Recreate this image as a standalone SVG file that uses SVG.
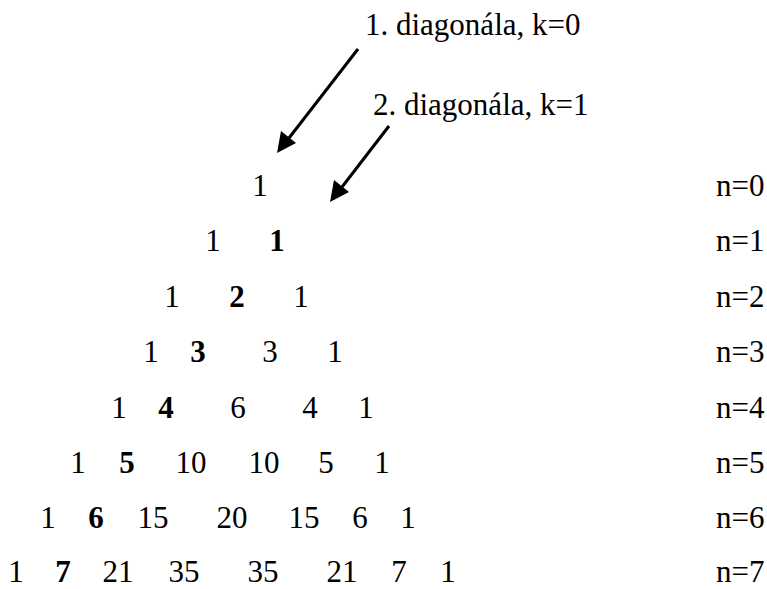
<svg xmlns="http://www.w3.org/2000/svg" width="767" height="589" viewBox="0 0 767 589" font-family="'Liberation Serif', 'Times New Roman', serif" font-size="31">
<style>
text{font-family:'Liberation Serif','Times New Roman',serif;font-size:31px;fill:#000}
.c{text-anchor:middle}
.b{font-weight:bold}
.arr{stroke:#000;stroke-width:3;fill:none}
.head{fill:#000}
</style>
<rect width="767" height="589" fill="#fff"/>
<g id="label1"><text x="365" y="35">1. diagonála, k=0</text></g>
<g id="label2"><text x="373" y="115">2. diagonála, k=1</text></g>
<g id="connectors">
<line class="arr" x1="358" y1="49" x2="289" y2="138"/>
<polygon class="head" points="277,153 281,131 296,143"/>
<line class="arr" x1="389" y1="126" x2="342" y2="187"/>
<polygon class="head" points="330,202 334,180 349,192"/>
</g>
<g id="row0"><text class="c" x="260" y="196">1</text><text x="716" y="196">n=0</text></g>
<g id="row1"><text class="c" x="213" y="251">1</text><text class="c b" x="277" y="251">1</text><text x="716" y="251">n=1</text></g>
<g id="row2"><text class="c" x="172" y="307">1</text><text class="c b" x="237" y="307">2</text><text class="c" x="301" y="307">1</text><text x="716" y="307">n=2</text></g>
<g id="row3"><text class="c" x="151" y="362">1</text><text class="c b" x="198" y="362">3</text><text class="c" x="270" y="362">3</text><text class="c" x="335" y="362">1</text><text x="716" y="362">n=3</text></g>
<g id="row4"><text class="c" x="119" y="418">1</text><text class="c b" x="166" y="418">4</text><text class="c" x="238" y="418">6</text><text class="c" x="310" y="418">4</text><text class="c" x="366" y="418">1</text><text x="716" y="418">n=4</text></g>
<g id="row5"><text class="c" x="78" y="473">1</text><text class="c b" x="127" y="473">5</text><text class="c" x="191" y="473">10</text><text class="c" x="264" y="473">10</text><text class="c" x="326" y="473">5</text><text class="c" x="382" y="473">1</text><text x="716" y="473">n=5</text></g>
<g id="row6"><text class="c" x="48" y="528">1</text><text class="c b" x="96" y="528">6</text><text class="c" x="153" y="528">15</text><text class="c" x="232" y="528">20</text><text class="c" x="304" y="528">15</text><text class="c" x="360" y="528">6</text><text class="c" x="408" y="528">1</text><text x="716" y="528">n=6</text></g>
<g id="row7"><text class="c" x="16" y="582">1</text><text class="c b" x="63" y="582">7</text><text class="c" x="118" y="582">21</text><text class="c" x="184" y="582">35</text><text class="c" x="263" y="582">35</text><text class="c" x="342" y="582">21</text><text class="c" x="399" y="582">7</text><text class="c" x="448" y="582">1</text><text x="716" y="582">n=7</text></g>
</svg>
